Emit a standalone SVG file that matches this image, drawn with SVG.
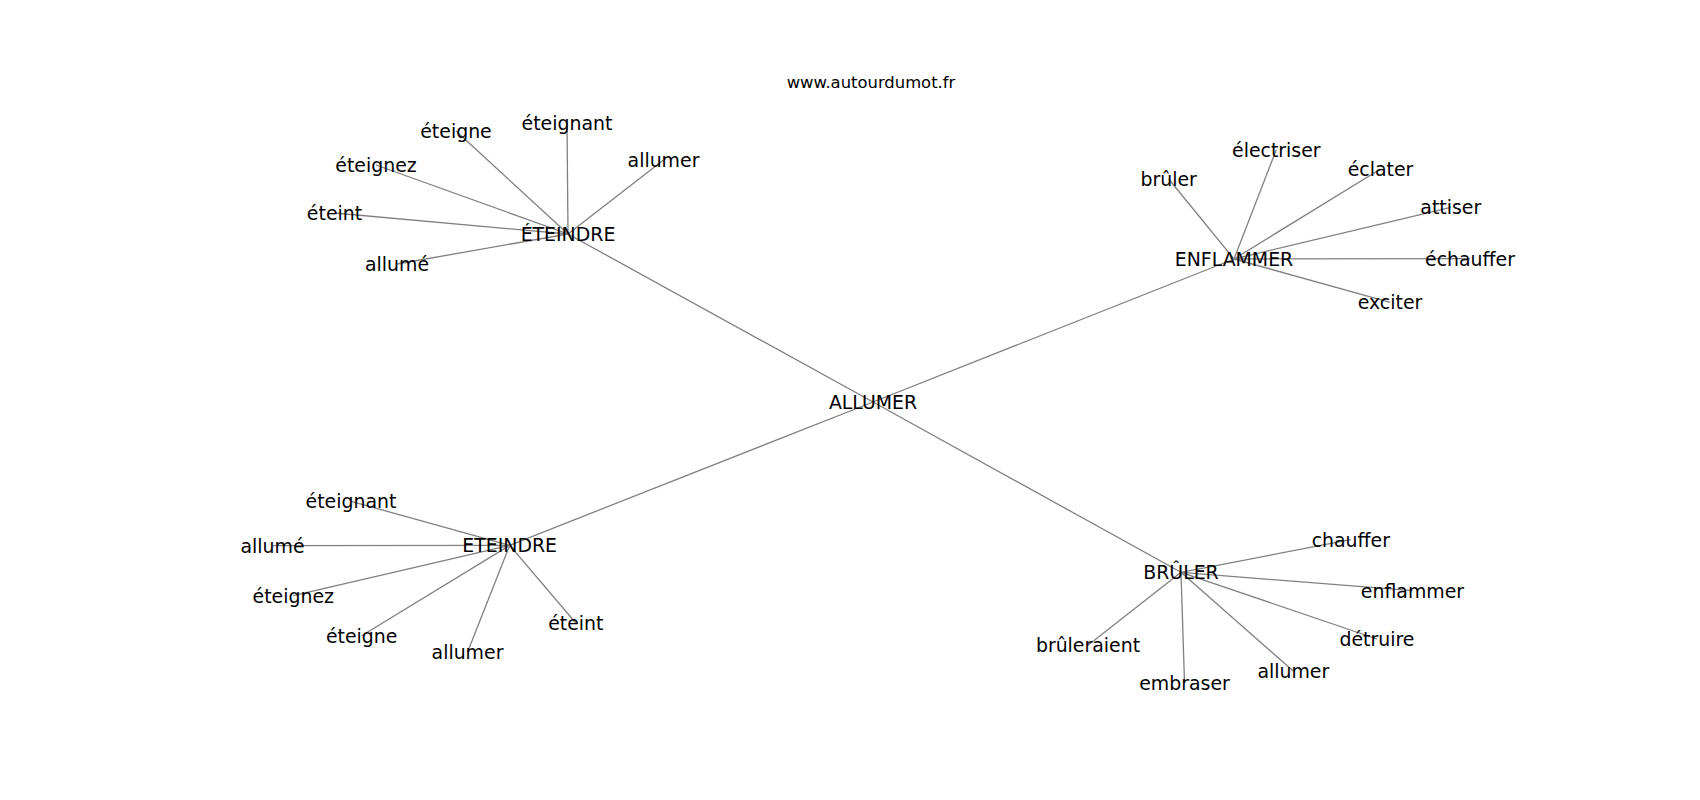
<svg xmlns="http://www.w3.org/2000/svg" width="1700" height="800" viewBox="0 0 1700 800">
<style>
.e{stroke:#808080;stroke-width:1.3;fill:none}
.t{font-family:"DejaVu Sans",sans-serif;font-size:18.9px;fill:#000;text-anchor:middle}
.ttl{font-family:"DejaVu Sans",sans-serif;font-size:16.4px;fill:#000;text-anchor:middle}
</style>
<rect width="1700" height="800" fill="#fff"/>
<text class="ttl" x="871" y="87.5">www.autourdumot.fr</text>
<g id="edges">
<line class="e" x1="873" y1="402" x2="568" y2="234"/>
<line class="e" x1="873" y1="402" x2="1234" y2="259"/>
<line class="e" x1="873" y1="402" x2="509.7" y2="545.3"/>
<line class="e" x1="873" y1="402" x2="1181" y2="572.3"/>
<line class="e" x1="568" y1="234" x2="456" y2="131"/>
<line class="e" x1="568" y1="234" x2="567" y2="123"/>
<line class="e" x1="568" y1="234" x2="376" y2="165"/>
<line class="e" x1="568" y1="234" x2="334.5" y2="213"/>
<line class="e" x1="568" y1="234" x2="397" y2="264"/>
<line class="e" x1="568" y1="234" x2="663.5" y2="160"/>
<line class="e" x1="1234" y1="259" x2="1168.7" y2="179"/>
<line class="e" x1="1234" y1="259" x2="1276.3" y2="149.7"/>
<line class="e" x1="1234" y1="259" x2="1380.5" y2="169"/>
<line class="e" x1="1234" y1="259" x2="1450.8" y2="207.3"/>
<line class="e" x1="1234" y1="259" x2="1470" y2="258.7"/>
<line class="e" x1="1234" y1="259" x2="1390" y2="302.3"/>
<line class="e" x1="509.7" y1="545.3" x2="351" y2="501.3"/>
<line class="e" x1="509.7" y1="545.3" x2="272.5" y2="545.7"/>
<line class="e" x1="509.7" y1="545.3" x2="293.3" y2="595.7"/>
<line class="e" x1="509.7" y1="545.3" x2="361.7" y2="635.7"/>
<line class="e" x1="509.7" y1="545.3" x2="467.5" y2="652.3"/>
<line class="e" x1="509.7" y1="545.3" x2="575.8" y2="623"/>
<line class="e" x1="1181" y1="572.3" x2="1350.8" y2="539.7"/>
<line class="e" x1="1181" y1="572.3" x2="1412.5" y2="590.7"/>
<line class="e" x1="1181" y1="572.3" x2="1377" y2="639"/>
<line class="e" x1="1181" y1="572.3" x2="1293.3" y2="671"/>
<line class="e" x1="1181" y1="572.3" x2="1184.5" y2="682.5"/>
<line class="e" x1="1181" y1="572.3" x2="1088" y2="645.3"/>
</g>
<g id="n-allumer"><text class="t" x="873" y="409">ALLUMER</text></g>
<g id="n-eteindre1"><text class="t" x="568" y="240.7">ÉTEINDRE</text></g>
<g id="n-e1-eteigne"><text class="t" x="456" y="138.3">éteigne</text></g>
<g id="n-e1-eteignant"><text class="t" x="567" y="130">éteignant</text></g>
<g id="n-e1-eteignez"><text class="t" x="376" y="171.7">éteignez</text></g>
<g id="n-e1-eteint"><text class="t" x="334.5" y="220">éteint</text></g>
<g id="n-e1-allume"><text class="t" x="397" y="271">allumé</text></g>
<g id="n-e1-allumer"><text class="t" x="663.5" y="167.3">allumer</text></g>
<g id="n-enflammer"><text class="t" x="1234" y="266">ENFLAMMER</text></g>
<g id="n-en-bruler"><text class="t" x="1168.7" y="186">brûler</text></g>
<g id="n-en-electriser"><text class="t" x="1276.3" y="156.7">électriser</text></g>
<g id="n-en-eclater"><text class="t" x="1380.5" y="176">éclater</text></g>
<g id="n-en-attiser"><text class="t" x="1450.8" y="214.3">attiser</text></g>
<g id="n-en-echauffer"><text class="t" x="1470" y="265.7">échauffer</text></g>
<g id="n-en-exciter"><text class="t" x="1390" y="309.3">exciter</text></g>
<g id="n-eteindre2"><text class="t" x="509.7" y="552.3">ETEINDRE</text></g>
<g id="n-e2-eteignant"><text class="t" x="351" y="508.3">éteignant</text></g>
<g id="n-e2-allume"><text class="t" x="272.5" y="552.7">allumé</text></g>
<g id="n-e2-eteignez"><text class="t" x="293.3" y="602.7">éteignez</text></g>
<g id="n-e2-eteigne"><text class="t" x="361.7" y="642.7">éteigne</text></g>
<g id="n-e2-allumer"><text class="t" x="467.5" y="659.3">allumer</text></g>
<g id="n-e2-eteint"><text class="t" x="575.8" y="630">éteint</text></g>
<g id="n-bruler"><text class="t" x="1181" y="579.3">BRÛLER</text></g>
<g id="n-br-chauffer"><text class="t" x="1350.8" y="546.7">chauffer</text></g>
<g id="n-br-enflammer"><text class="t" x="1412.5" y="597.7">enflammer</text></g>
<g id="n-br-detruire"><text class="t" x="1377" y="646">détruire</text></g>
<g id="n-br-allumer"><text class="t" x="1293.3" y="678.2">allumer</text></g>
<g id="n-br-embraser"><text class="t" x="1184.5" y="689.6">embraser</text></g>
<g id="n-br-bruleraient"><text class="t" x="1088" y="652.3">brûleraient</text></g>
</svg>
